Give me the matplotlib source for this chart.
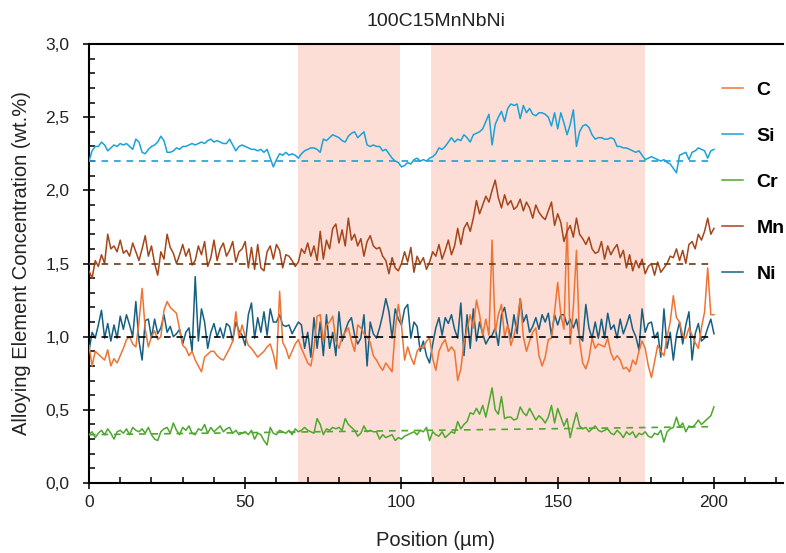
import numpy as np
import matplotlib
matplotlib.use("Agg")
import matplotlib.pyplot as plt
from matplotlib.ticker import MultipleLocator, FuncFormatter

plt.rcParams['font.family'] = ['Liberation Sans', 'DejaVu Sans']

# line scan positions, 1 µm step
position = np.arange(0, 201)

si = [2.20, 2.27, 2.30, 2.30, 2.33, 2.31, 2.27, 2.29, 2.31, 2.30,
      2.32, 2.31, 2.32, 2.30, 2.28, 2.35, 2.33, 2.26, 2.25, 2.28,
      2.30, 2.31, 2.33, 2.37, 2.34, 2.26, 2.26, 2.27, 2.29, 2.28,
      2.30, 2.30, 2.31, 2.32, 2.31, 2.32, 2.33, 2.32, 2.34, 2.35,
      2.33, 2.34, 2.33, 2.32, 2.32, 2.35, 2.31, 2.27, 2.30, 2.31,
      2.30, 2.29, 2.28, 2.28, 2.27, 2.28, 2.26, 2.28, 2.22, 2.16,
      2.21, 2.25, 2.24, 2.26, 2.24, 2.25, 2.24, 2.22, 2.25, 2.27,
      2.28, 2.29, 2.29, 2.28, 2.26, 2.35, 2.34, 2.36, 2.38, 2.37,
      2.36, 2.34, 2.33, 2.37, 2.39, 2.40, 2.36, 2.38, 2.40, 2.31,
      2.30, 2.31, 2.30, 2.30, 2.27, 2.28, 2.25, 2.22, 2.20, 2.19,
      2.16, 2.17, 2.19, 2.18, 2.21, 2.22, 2.20, 2.21, 2.20, 2.22,
      2.23, 2.25, 2.29, 2.28, 2.30, 2.33, 2.36, 2.33, 2.35, 2.34,
      2.38, 2.36, 2.33, 2.38, 2.39, 2.40, 2.42, 2.47, 2.52, 2.31,
      2.45, 2.50, 2.54, 2.47, 2.56, 2.59, 2.58, 2.59, 2.49, 2.58,
      2.53, 2.56, 2.52, 2.51, 2.53, 2.53, 2.52, 2.50, 2.44, 2.53,
      2.42, 2.53, 2.46, 2.38, 2.45, 2.55, 2.30, 2.40, 2.44, 2.45,
      2.43, 2.38, 2.35, 2.36, 2.36, 2.35, 2.35, 2.36, 2.35, 2.30,
      2.30, 2.29, 2.29, 2.28, 2.27, 2.26, 2.27, 2.24, 2.21, 2.22,
      2.23, 2.22, 2.21, 2.20, 2.21, 2.19, 2.18, 2.15, 2.12, 2.24,
      2.25, 2.26, 2.21, 2.26, 2.27, 2.29, 2.28, 2.27, 2.22, 2.27, 2.28]

mn = [1.45, 1.40, 1.52, 1.48, 1.56, 1.50, 1.70, 1.60, 1.62, 1.58,
      1.66, 1.57, 1.59, 1.55, 1.64, 1.58, 1.52, 1.60, 1.69, 1.55,
      1.62, 1.50, 1.42, 1.58, 1.53, 1.70, 1.61, 1.57, 1.50, 1.56,
      1.63, 1.55, 1.60, 1.49, 1.52, 1.62, 1.56, 1.65, 1.48, 1.54,
      1.66, 1.52, 1.60, 1.64, 1.55, 1.59, 1.65, 1.51, 1.58, 1.60,
      1.65, 1.47, 1.61, 1.46, 1.63, 1.47, 1.45, 1.58, 1.62, 1.53,
      1.63, 1.59, 1.47, 1.56, 1.55, 1.52, 1.48, 1.51, 1.60, 1.57,
      1.64, 1.55, 1.62, 1.52, 1.72, 1.53, 1.66, 1.60, 1.74, 1.77,
      1.64, 1.73, 1.62, 1.81, 1.66, 1.70, 1.62, 1.67, 1.55, 1.65,
      1.69, 1.62, 1.60, 1.61, 1.55, 1.52, 1.43, 1.54, 1.47, 1.45,
      1.50, 1.58, 1.51, 1.61, 1.44, 1.55, 1.50, 1.54, 1.46, 1.51,
      1.58, 1.55, 1.63, 1.53, 1.59, 1.66, 1.56, 1.62, 1.74, 1.63,
      1.74, 1.78, 1.72, 1.81, 1.93, 1.84, 1.90, 1.96, 1.92, 2.00,
      2.07, 1.95, 1.88, 1.97, 1.90, 1.93, 1.87, 1.89, 1.94, 1.86,
      1.92, 1.88, 1.81, 1.90, 1.85, 1.82, 1.80, 1.86, 1.92, 1.76,
      1.84, 1.78, 1.65, 1.72, 1.76, 1.68, 1.81, 1.70, 1.67, 1.63,
      1.68, 1.60, 1.57, 1.58, 1.65, 1.53, 1.62, 1.56, 1.60, 1.63,
      1.54, 1.59, 1.47, 1.56, 1.45, 1.52, 1.47, 1.53, 1.43, 1.48,
      1.50, 1.42, 1.51, 1.44, 1.47, 1.50, 1.55, 1.54, 1.60, 1.52,
      1.59, 1.50, 1.63, 1.65, 1.60, 1.70, 1.66, 1.72, 1.81, 1.70, 1.74]

c = [0.94, 0.80, 0.90, 0.88, 0.86, 0.84, 0.91, 0.80, 0.85, 0.82,
     0.87, 0.92, 0.98, 1.00, 0.95, 0.93, 1.10, 1.33, 1.05, 0.93,
     1.00, 1.04, 0.98, 1.00, 1.18, 1.24, 1.20, 1.18, 1.16, 1.05,
     0.94, 0.92, 0.87, 0.90, 0.84, 0.80, 0.76, 0.86, 0.88, 0.90,
     0.90, 0.87, 0.85, 0.84, 0.88, 0.92, 0.97, 1.17, 0.99, 1.08,
     1.00, 0.94, 0.92, 0.89, 0.86, 0.88, 0.90, 0.93, 0.95, 0.88,
     0.78, 1.31, 0.96, 0.92, 0.85, 0.90, 0.95, 0.98, 0.92, 0.87,
     0.82, 0.80, 0.92, 1.14, 1.15, 0.97, 1.08, 1.10, 1.14, 0.97,
     0.92, 1.00, 1.03, 1.06, 0.97, 0.90, 1.08, 1.06, 1.02, 1.00,
     0.96, 0.87, 0.84, 0.80, 0.77, 0.82, 0.79, 0.76, 1.05, 1.22,
     1.08, 0.84, 0.93, 0.86, 0.81, 0.90, 0.93, 0.92, 0.97, 0.99,
     0.85, 0.77, 0.90, 0.95, 0.98, 0.90, 0.93, 0.90, 0.70, 0.78,
     0.96, 1.05, 1.15, 1.06, 1.25, 1.15, 1.01, 1.12, 1.01, 1.66,
     1.03, 1.15, 1.22, 1.00, 1.08, 0.94, 1.01, 1.10, 1.26, 1.00,
     0.90, 0.97, 1.03, 1.06, 0.87, 0.80, 0.86, 0.98, 0.99, 1.17,
     1.37, 1.15, 1.05, 1.78, 0.95, 1.20, 1.59, 0.97, 0.82, 0.78,
     0.85, 0.99, 0.92, 0.95, 0.94, 0.93, 0.99, 0.89, 0.84, 0.87,
     0.84, 0.78, 0.79, 0.76, 0.84, 0.81, 0.90, 0.97, 0.92, 0.80,
     0.72, 0.83, 0.94, 0.90, 0.87, 1.00, 1.10, 1.28, 1.13, 1.10,
     1.01, 0.99, 1.06, 1.01, 0.96, 0.92, 1.06, 1.17, 1.47, 1.15, 1.15]

ni = [0.90, 1.03, 0.99, 1.08, 1.18, 0.99, 1.09, 0.97, 1.08, 0.99,
      1.14, 1.05, 1.15, 1.08, 1.00, 1.24, 0.97, 0.84, 1.11, 1.12,
      0.99, 1.12, 1.02, 1.06, 1.15, 1.03, 1.07, 1.00, 1.02, 1.05,
      0.95, 1.03, 1.06, 0.90, 1.41, 0.97, 1.19, 1.10, 0.92, 1.03,
      1.09, 1.00, 1.06, 0.99, 1.09, 1.07, 0.97, 1.10, 1.04, 1.01,
      0.94, 1.15, 1.23, 0.99, 1.13, 1.03, 1.17, 1.01, 1.19, 1.10,
      1.10, 1.15, 1.08, 1.07, 1.08, 1.02, 1.06, 1.10, 1.08, 0.92,
      1.03, 0.86, 1.13, 0.92, 1.10, 0.87, 1.15, 0.92, 1.03, 0.87,
      1.17, 0.97, 1.04, 1.10, 1.13, 1.01, 0.95, 0.99, 1.15, 0.80,
      1.10, 1.02, 0.99, 1.06, 1.15, 1.26, 1.17, 0.99, 1.19, 1.12,
      1.08, 1.19, 1.22, 0.99, 1.10, 1.07, 0.90, 0.97, 0.87, 0.82,
      0.95, 1.06, 1.13, 1.01, 1.13, 1.09, 1.15, 1.05, 0.99, 1.23,
      0.87, 1.15, 0.92, 1.19, 0.97, 1.10, 1.02, 0.95, 0.99, 1.01,
      1.06, 0.94, 1.15, 1.20, 1.08, 0.99, 1.15, 1.02, 1.26, 1.10,
      1.15, 1.03, 1.07, 1.13, 1.05, 1.15, 1.10, 1.16, 1.01, 1.15,
      1.08, 1.15, 1.15, 1.08, 1.12, 1.06, 1.12, 1.00, 0.97, 1.22,
      1.06, 0.99, 1.10, 0.99, 1.12, 0.99, 1.16, 1.05, 1.08, 0.99,
      1.12, 1.02, 1.08, 1.15, 1.05, 1.00, 0.91, 1.19, 1.03, 1.09,
      1.10, 0.99, 1.03, 0.86, 1.19, 0.92, 1.03, 0.84, 1.01, 1.10,
      0.95, 1.08, 1.17, 0.84, 1.02, 1.09, 0.97, 0.99, 1.06, 1.12, 1.02]

cr = [0.33, 0.35, 0.31, 0.34, 0.36, 0.33, 0.37, 0.34, 0.30, 0.35,
      0.36, 0.34, 0.37, 0.33, 0.38, 0.36, 0.35, 0.37, 0.34, 0.38,
      0.33, 0.30, 0.29, 0.35, 0.37, 0.38, 0.34, 0.41, 0.36, 0.33,
      0.38, 0.36, 0.39, 0.34, 0.33, 0.37, 0.36, 0.40, 0.34, 0.38,
      0.35, 0.37, 0.39, 0.35, 0.37, 0.38, 0.34, 0.36, 0.33, 0.34,
      0.35, 0.33, 0.36, 0.30, 0.34, 0.33, 0.29, 0.26, 0.38, 0.34,
      0.33, 0.36, 0.35, 0.34, 0.36, 0.33, 0.37, 0.35, 0.36, 0.38,
      0.36, 0.35, 0.34, 0.44, 0.40, 0.33, 0.37, 0.36, 0.38, 0.37,
      0.38, 0.36, 0.44, 0.40, 0.38, 0.36, 0.32, 0.34, 0.39, 0.35,
      0.36, 0.35, 0.35, 0.30, 0.33, 0.31, 0.32, 0.33, 0.29, 0.31,
      0.30, 0.32, 0.33, 0.34, 0.35, 0.33, 0.36, 0.35, 0.38, 0.29,
      0.35, 0.33, 0.32, 0.35, 0.31, 0.33, 0.35, 0.34, 0.42, 0.37,
      0.40, 0.42, 0.48, 0.47, 0.51, 0.47, 0.53, 0.45, 0.55, 0.65,
      0.50, 0.47, 0.59, 0.44, 0.45, 0.45, 0.43, 0.44, 0.52, 0.48,
      0.46, 0.51, 0.47, 0.43, 0.46, 0.44, 0.41, 0.45, 0.53, 0.41,
      0.51, 0.45, 0.39, 0.44, 0.31, 0.40, 0.48, 0.39, 0.37, 0.38,
      0.35, 0.37, 0.39, 0.36, 0.35, 0.36, 0.37, 0.34, 0.33, 0.36,
      0.34, 0.31, 0.35, 0.33, 0.35, 0.31, 0.34, 0.33, 0.35, 0.32,
      0.31, 0.34, 0.33, 0.36, 0.28, 0.35, 0.37, 0.38, 0.45, 0.38,
      0.41, 0.35, 0.39, 0.38, 0.40, 0.43, 0.40, 0.42, 0.44, 0.46, 0.52]

# nominal compositions (start / end of the dashed reference lines)
nominal_x = [0, 200]
si_nominal = [2.2, 2.2]
mn_nominal = [1.5, 1.5]
c_ni_nominal = [1.0, 1.0]
cr_nominal = [0.33, 0.385]

# shaded segregation bands
bands = [(67, 99.5), (109.5, 178)]

fig = plt.figure(figsize=(7.86, 5.53), dpi=100)
ax = fig.add_axes([0.1132, 0.1266, 0.8826, 0.7938])

for lo, hi in bands:
    ax.axvspan(lo, hi, color='#FCDED6', lw=0, zorder=0)

lw = 1.1
ax.plot(position, c, color='#EE7434', lw=lw, label='C', zorder=3)
ax.plot(position, si, color='#1AA2D8', lw=lw, label='Si', zorder=3)
ax.plot(position, cr, color='#4EA72E', lw=lw, label='Cr', zorder=3)
ax.plot(position, mn, color='#A5451A', lw=lw, label='Mn', zorder=3)
ax.plot(position, ni, color='#156082', lw=lw, label='Ni', zorder=2.9)

dash = dict(lw=1.2, dashes=(4, 3.5), zorder=4)
ax.plot(nominal_x, si_nominal, color='#1AA2D8', **dash)
ax.plot(nominal_x, mn_nominal, color='#6E3A12', **dash)
ax.plot(nominal_x, c_ni_nominal, color='black', **dash)
ax.plot(nominal_x, cr_nominal, color='#4EA72E', **dash)

ax.set_xlim(0, 222)
ax.set_ylim(0, 3.0)

ax.xaxis.set_major_locator(MultipleLocator(50))
ax.xaxis.set_minor_locator(MultipleLocator(10))
ax.yaxis.set_major_locator(MultipleLocator(0.5))
ax.yaxis.set_minor_locator(MultipleLocator(0.1))
ax.yaxis.set_major_formatter(FuncFormatter(lambda v, p: f"{v:.1f}".replace('.', ',')))

ax.tick_params(which='major', direction='inout', length=8, width=1.3, labelsize=12.5, colors='#222222')
ax.tick_params(which='minor', direction='in', length=4, width=1.1)
ax.tick_params(axis='x', pad=5)
ax.tick_params(axis='y', pad=10)

for side in ['left', 'bottom', 'top']:
    ax.spines[side].set_linewidth(1.5)
ax.spines['right'].set_visible(False)

ax.set_title('100C15MnNbNi', fontsize=14, pad=13, color='#222222')
ax.set_xlabel('Position (µm)', fontsize=14.5, color='#222222', labelpad=15)
ax.set_ylabel('Alloying Element Concentration (wt.%)', fontsize=14.5, color='#222222', labelpad=10)

leg = ax.legend(loc='upper left', bbox_to_anchor=(0.912, 0.916), frameon=False,
                borderpad=0, borderaxespad=0,
                handlelength=1.1, handletextpad=0.7, labelspacing=1.46,
                prop={'weight': 'bold', 'size': 14})

fig.savefig('out.png', dpi=100)
